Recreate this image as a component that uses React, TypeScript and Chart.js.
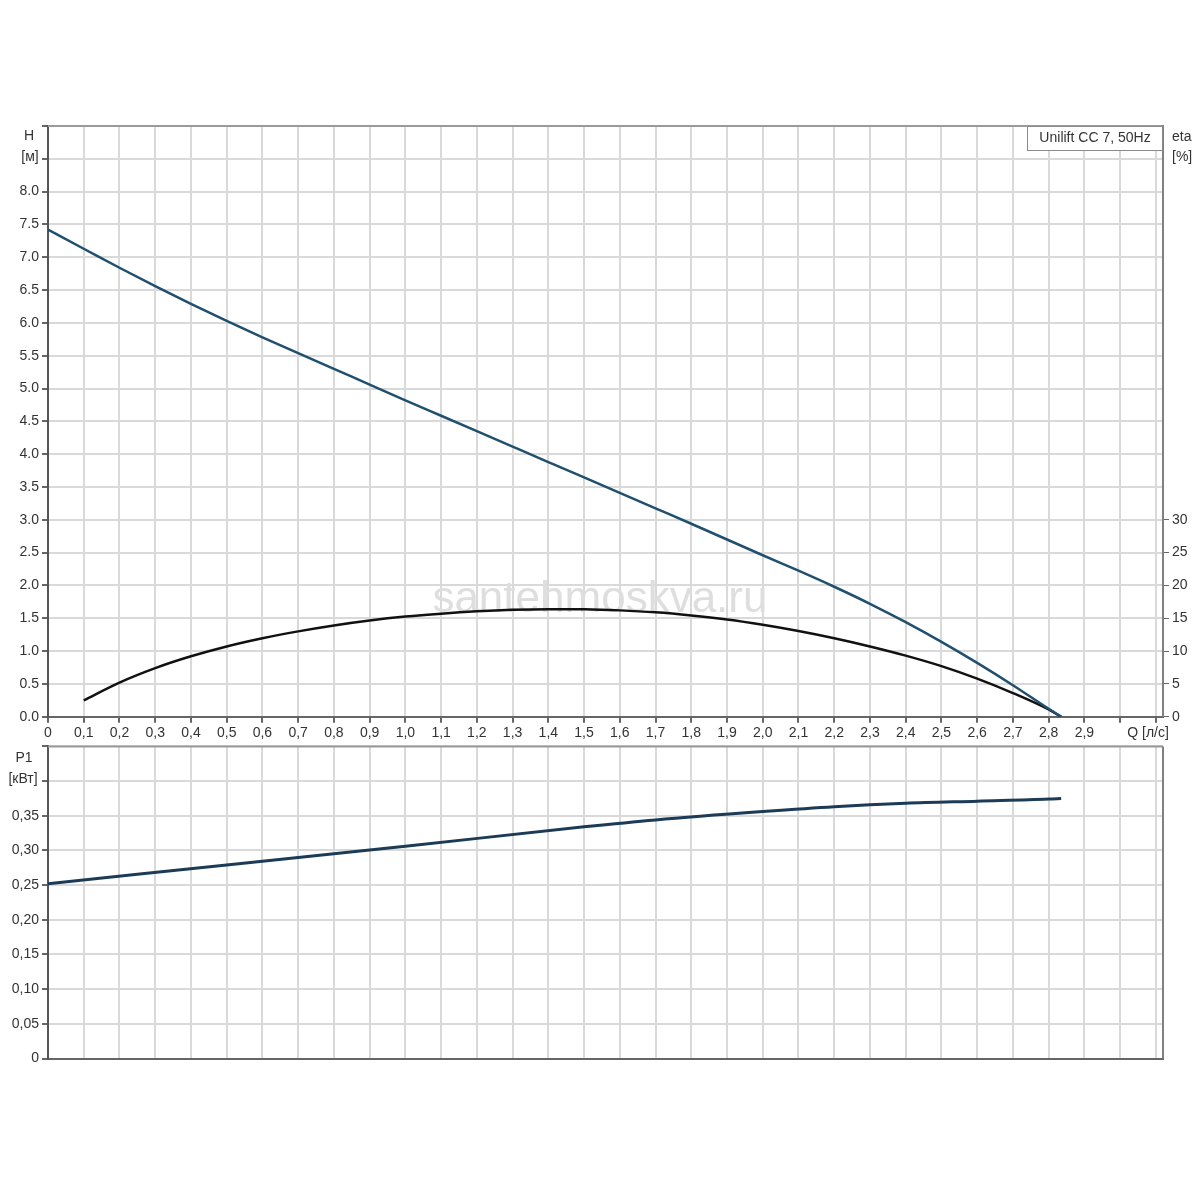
import React, { useEffect, useRef } from 'react';
import { Chart, registerables } from 'chart.js';

Chart.register(...registerables);

const FONT = '"Liberation Sans", Arial, sans-serif';

// ---- ticks / labels ----
const Q_TICKS = [0, 0.1, 0.2, 0.3, 0.4, 0.5, 0.6, 0.7, 0.8, 0.9, 1.0, 1.1, 1.2, 1.3, 1.4, 1.5, 1.6, 1.7, 1.8, 1.9, 2.0, 2.1, 2.2, 2.3, 2.4, 2.5, 2.6, 2.7, 2.8, 2.9, 3.0, 3.1];
const Q_LABELS = ['0', '0,1', '0,2', '0,3', '0,4', '0,5', '0,6', '0,7', '0,8', '0,9', '1,0', '1,1', '1,2', '1,3', '1,4', '1,5', '1,6', '1,7', '1,8', '1,9', '2,0', '2,1', '2,2', '2,3', '2,4', '2,5', '2,6', '2,7', '2,8', '2,9', '', ''];
const H_TICKS = [0, 0.5, 1, 1.5, 2, 2.5, 3, 3.5, 4, 4.5, 5, 5.5, 6, 6.5, 7, 7.5, 8, 8.5, 9];
const H_LABELS = ['0.0', '0.5', '1.0', '1.5', '2.0', '2.5', '3.0', '3.5', '4.0', '4.5', '5.0', '5.5', '6.0', '6.5', '7.0', '7.5', '8.0', '', ''];
const ETA_TICKS = [0, 5, 10, 15, 20, 25, 30];
const ETA_LABELS = ['0', '5', '10', '15', '20', '25', '30'];
const P1_TICKS = [0, 0.05, 0.1, 0.15, 0.2, 0.25, 0.3, 0.35, 0.4, 0.45];
const P1_LABELS = ['0', '0,05', '0,10', '0,15', '0,20', '0,25', '0,30', '0,35', '', ''];

// ---- series ----
const H_Q = [0, 0.1, 0.2, 0.3, 0.4, 0.5, 0.6, 0.7, 0.8, 0.9, 1.0, 1.1, 1.2, 1.3, 1.4, 1.5, 1.6, 1.7, 1.8, 1.9, 2.0, 2.1, 2.2, 2.3, 2.4, 2.5, 2.6, 2.7, 2.8, 2.835];
const H_VALUES = [7.42, 7.13, 6.84, 6.56, 6.29, 6.03, 5.78, 5.54, 5.30, 5.06, 4.82, 4.585, 4.35, 4.115, 3.88, 3.645, 3.41, 3.175, 2.94, 2.70, 2.46, 2.225, 1.98, 1.72, 1.44, 1.14, 0.82, 0.48, 0.12, 0];
const ETA_Q = [0.1, 0.2, 0.3, 0.4, 0.5, 0.6, 0.7, 0.8, 0.9, 1.0, 1.1, 1.2, 1.3, 1.4, 1.5, 1.6, 1.7, 1.8, 1.9, 2.0, 2.1, 2.2, 2.3, 2.4, 2.5, 2.6, 2.7, 2.8, 2.835];
const ETA_VALUES = [2.5, 5.2, 7.4, 9.2, 10.7, 11.95, 13.0, 13.9, 14.65, 15.25, 15.7, 16.05, 16.28, 16.38, 16.36, 16.2, 15.9, 15.42, 14.8, 14.0, 13.05, 11.95, 10.7, 9.3, 7.7, 5.8, 3.6, 1.1, 0];
const P1_Q = [0, 0.5, 1.0, 1.5, 1.7, 2.0, 2.2, 2.4, 2.6, 2.8, 2.835];
const P1_VALUES = [0.252, 0.279, 0.306, 0.334, 0.344, 0.356, 0.363, 0.368, 0.371, 0.374, 0.375];

const Q_MIN = 0;
const Q_MAX = 3.12;

const GRID = '#d9d9d9';
const AXIS = '#666666';
const TEXT = '#333333';

const toPoints = (xs: number[], ys: number[]) => xs.map((x, i) => ({ x, y: ys[i] }));

function text(ctx: CanvasRenderingContext2D, s: string, x: number, y: number, align: CanvasTextAlign = 'center', size = 14, color = TEXT) {
  ctx.save();
  ctx.font = `${size}px ${FONT}`;
  ctx.fillStyle = color;
  ctx.textAlign = align;
  ctx.textBaseline = 'middle';
  ctx.fillText(s, x, y);
  ctx.restore();
}

function frame(chart: any) {
  const ctx = chart.ctx as CanvasRenderingContext2D;
  const a = chart.chartArea;
  ctx.save();
  ctx.strokeStyle = '#9a9a9a';
  ctx.lineWidth = 2;
  ctx.beginPath();
  ctx.moveTo(a.left, a.top);
  ctx.lineTo(a.right, a.top);
  ctx.stroke();
  ctx.strokeStyle = '#808080';
  ctx.beginPath();
  ctx.moveTo(a.right, a.top);
  ctx.lineTo(a.right, a.bottom);
  ctx.stroke();
  ctx.restore();
}

const topDecor = {
  id: 'topDecor',
  beforeDatasetsDraw(chart: any) {
    const ctx = chart.ctx as CanvasRenderingContext2D;
    const a = chart.chartArea;
    ctx.save();
    ctx.font = `44px ${FONT}`;
    ctx.fillStyle = '#dedede';
    ctx.textAlign = 'center';
    ctx.textBaseline = 'alphabetic';
    ctx.fillText('santehmoskva.ru', a.left + (a.right - a.left) * 0.495, a.bottom - 105);
    ctx.restore();
  },
  afterDraw(chart: any) {
    const ctx = chart.ctx as CanvasRenderingContext2D;
    const a = chart.chartArea;
    frame(chart);
    text(ctx, 'H', 29, a.top + 10);
    text(ctx, '[м]', 30, a.top + 31);
    text(ctx, 'eta', a.right + 9, a.top + 11, 'left');
    text(ctx, '[%]', a.right + 9, a.top + 31, 'left');
    text(ctx, 'Q [л/с]', a.left + (3.02 / Q_MAX) * (a.right - a.left), a.bottom + 16, 'left');
    const w = 136, h = 24;
    ctx.save();
    ctx.fillStyle = '#ffffff';
    ctx.fillRect(a.right - w, a.top, w, h);
    ctx.strokeStyle = '#8a8a8a';
    ctx.lineWidth = 1;
    ctx.strokeRect(a.right - w + 0.5, a.top + 0.5, w - 1, h);
    ctx.restore();
    text(ctx, 'Unilift CC 7, 50Hz', a.right - w / 2, a.top + 12, 'center', 14);
  },
};

const bottomDecor = {
  id: 'bottomDecor',
  afterDraw(chart: any) {
    const ctx = chart.ctx as CanvasRenderingContext2D;
    const a = chart.chartArea;
    frame(chart);
    text(ctx, 'P1', 24, a.top + 12);
    text(ctx, '[кВт]', 23, a.top + 33);
  },
};

const setTicks = (vals: number[]) => (scale: any) => {
  scale.ticks = vals.map((v) => ({ value: v }));
};

export default function App() {
  const topRef = useRef<HTMLCanvasElement | null>(null);
  const botRef = useRef<HTMLCanvasElement | null>(null);

  useEffect(() => {
    Chart.defaults.font.family = FONT;
    Chart.defaults.font.size = 14;
    Chart.defaults.color = TEXT;

    const xScale = (showLabels: boolean, height: number) => ({
      type: 'linear' as const,
      min: Q_MIN,
      max: Q_MAX,
      afterBuildTicks: setTicks(Q_TICKS),
      afterFit: (s: any) => { s.height = height; },
      ticks: {
        display: showLabels,
        autoSkip: false,
        maxRotation: 0,
        minRotation: 0,
        padding: 2,
        color: TEXT,
        font: { size: 14 },
        callback: (_v: any, i: number) => Q_LABELS[i],
      },
      grid: { color: GRID, lineWidth: 2, drawTicks: showLabels, tickLength: 6, tickColor: AXIS },
      border: { color: AXIS, width: 2 },
    });

    const lineStyle = { pointRadius: 0, cubicInterpolationMode: 'monotone', fill: false };

    const top = new Chart(topRef.current as HTMLCanvasElement, {
      type: 'line',
      data: {
        datasets: [
          { label: 'H', data: toPoints(H_Q, H_VALUES), borderColor: '#21506f', borderWidth: 2.5, yAxisID: 'y', ...lineStyle },
          { label: 'eta', data: toPoints(ETA_Q, ETA_VALUES), borderColor: '#111111', borderWidth: 2.5, yAxisID: 'y2', ...lineStyle },
        ],
      },
      options: {
        responsive: false,
        animation: false,
        devicePixelRatio: 1,
        layout: { padding: { top: 126, left: 0, right: 0, bottom: 0 } },
        plugins: { legend: { display: false }, tooltip: { enabled: false } },
        scales: {
          x: xScale(true, 760 - 716.7),
          y: {
            type: 'linear',
            position: 'left',
            min: 0,
            max: 9,
            afterBuildTicks: setTicks(H_TICKS),
            afterFit: (s: any) => { s.width = 48; },
            ticks: { padding: 3, color: TEXT, font: { size: 14 }, autoSkip: false, callback: (_v: any, i: number) => H_LABELS[i] },
            grid: { color: GRID, lineWidth: 2, tickLength: 6, tickColor: AXIS },
            border: { color: '#555555', width: 2 },
          },
          y2: {
            type: 'linear',
            position: 'right',
            min: 0,
            max: 90,
            afterBuildTicks: setTicks(ETA_TICKS),
            afterFit: (s: any) => { s.width = 1200 - 1163; },
            ticks: { padding: 3, color: TEXT, font: { size: 14 }, autoSkip: false, callback: (_v: any, i: number) => ETA_LABELS[i] },
            grid: { drawOnChartArea: false, tickLength: 6, tickColor: AXIS },
            border: { color: '#808080', width: 2 },
          },
        },
      },
      plugins: [topDecor],
    } as any);

    const bottom = new Chart(botRef.current as HTMLCanvasElement, {
      type: 'line',
      data: {
        datasets: [
          { label: 'P1', data: toPoints(P1_Q, P1_VALUES), borderColor: '#1b3b57', borderWidth: 3, ...lineStyle },
        ],
      },
      options: {
        responsive: false,
        animation: false,
        devicePixelRatio: 1,
        layout: { padding: { top: 10, left: 0, right: 1200 - 1163, bottom: 0 } },
        plugins: { legend: { display: false }, tooltip: { enabled: false } },
        scales: {
          x: xScale(false, 465 - (1058.5 - 735)),
          y: {
            type: 'linear',
            position: 'left',
            min: 0,
            max: 0.45,
            afterBuildTicks: setTicks(P1_TICKS),
            afterFit: (s: any) => { s.width = 48; },
            ticks: { padding: 3, color: TEXT, font: { size: 14 }, autoSkip: false, callback: (_v: any, i: number) => P1_LABELS[i] },
            grid: { color: GRID, lineWidth: 2, tickLength: 6, tickColor: AXIS },
            border: { color: '#555555', width: 2 },
          },
        },
      },
      plugins: [bottomDecor],
    } as any);

    return () => {
      top.destroy();
      bottom.destroy();
    };
  }, []);

  return (
    <div style={{ position: 'absolute', left: 0, top: 0, width: 1200, height: 1200, background: '#ffffff' }}>
      <canvas ref={topRef} width={1200} height={760} style={{ position: 'absolute', left: 0, top: 0, width: 1200, height: 760 }} />
      <canvas ref={botRef} width={1200} height={465} style={{ position: 'absolute', left: 0, top: 735, width: 1200, height: 465 }} />
    </div>
  );
}
